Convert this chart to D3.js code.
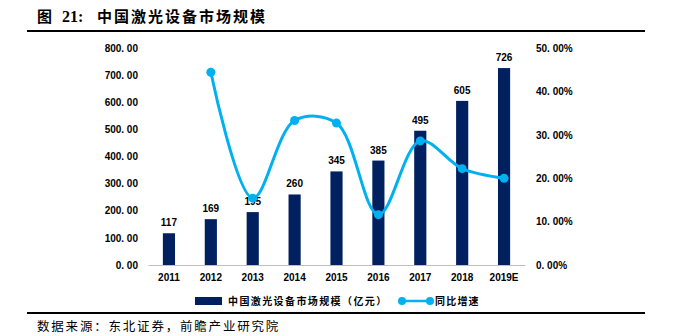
<!DOCTYPE html>
<html>
<head>
<meta charset="utf-8">
<script src="https://cdn.jsdelivr.net/npm/d3@7"></script>
<style>
  body { margin: 0; background: #fff; }
  svg { display: block; }
  .tick text { font-family: Arial, "Liberation Sans", sans-serif; font-weight: bold; font-size: 10px; fill: #000; }
  .cjk { font-family: "Noto Sans CJK SC", sans-serif; }
</style>
</head>
<body>
<svg width="675" height="336"></svg>
<script>
// data
var years = ["2011", "2012", "2013", "2014", "2015", "2016", "2017", "2018", "2019E"];
var market = [117, 169, 195, 260, 345, 385, 495, 605, 726];
var growth = [null, 0.444, 0.154, 0.333, 0.327, 0.116, 0.286, 0.222, 0.200];
var leftTicks = [0, 100, 200, 300, 400, 500, 600, 700, 800];
var rightTicks = [0, 0.1, 0.2, 0.3, 0.4, 0.5];

var svg = d3.select("svg");
var margin = { top: 48, left: 148, right: 150, bottom: 71 };
var width = 675 - margin.left - margin.right,
    height = 336 - margin.top - margin.bottom;

var barColor = "#002060", lineColor = "#00B0F0";

// title + rules
var title = svg.append("text")
    .attr("y", 22)
    .style("font-weight", "bold").style("font-size", "15px");
title.append("tspan").attr("x", 37).attr("class", "cjk").text("图");
title.append("tspan").attr("x", 62)
    .style("font-family", "'Liberation Serif', serif").style("font-size", "16px").text("21:");
title.append("tspan").attr("x", 97).attr("class", "cjk")
    .style("letter-spacing", "2px").text("中国激光设备市场规模");

svg.append("line").attr("x1", 27).attr("x2", 645).attr("y1", 31).attr("y2", 31)
    .attr("stroke", "#000").attr("stroke-width", 2);
svg.append("line").attr("x1", 27).attr("x2", 645).attr("y1", 313).attr("y2", 313)
    .attr("stroke", "#000").attr("stroke-width", 2);
svg.append("text").attr("class", "cjk")
    .attr("x", 37).attr("y", 331)
    .style("font-size", "12.5px").style("letter-spacing", "1.8px")
    .text("数据来源：东北证券，前瞻产业研究院");

var g = svg.append("g").attr("transform", "translate(" + margin.left + "," + margin.top + ")");

var x = d3.scaleBand().domain(years).range([0, width]).paddingInner(0.71).paddingOuter(0.355);
var y = d3.scaleLinear().domain([0, 800]).range([height, 0]);
var y2 = d3.scaleLinear().domain([0, 0.5]).range([height, 0]);

// left axis
var ax = g.append("g")
    .call(d3.axisLeft(y).tickValues(leftTicks).tickSize(0).tickPadding(10)
        .tickFormat(function(d) { return d3.format(".2f")(d).replace(".", ". "); }));
ax.select(".domain").remove();

// right axis
var ar = g.append("g").attr("transform", "translate(" + width + ",0)")
    .call(d3.axisRight(y2).tickValues(rightTicks).tickSize(0).tickPadding(11)
        .tickFormat(function(d) { return d3.format(".2f")(d * 100).replace(".", ". ") + "%"; }));
ar.select(".domain").remove();

// bottom axis
var ab = g.append("g").attr("transform", "translate(0," + height + ")")
    .call(d3.axisBottom(x).tickSize(0).tickPadding(9));
ab.select(".domain").attr("stroke", "#bfbfbf");

// bars
g.selectAll(".bar").data(market).enter().append("rect")
    .attr("class", "bar")
    .attr("x", function(d, i) { return x(years[i]); })
    .attr("y", function(d) { return y(d); })
    .attr("width", x.bandwidth())
    .attr("height", function(d) { return height - y(d); })
    .attr("fill", barColor);

// bar value labels
g.selectAll(".lbl").data(market).enter().append("text")
    .attr("x", function(d, i) { return x(years[i]) + x.bandwidth() / 2; })
    .attr("y", function(d) { return y(d) - 7; })
    .attr("text-anchor", "middle")
    .style("font-family", "Arial, 'Liberation Sans', sans-serif")
    .style("font-weight", "bold").style("font-size", "10px")
    .text(function(d) { return d; });

// growth line
var pts = growth.map(function(v, i) { return { year: years[i], v: v }; })
    .filter(function(d) { return d.v !== null; });
var line = d3.line()
    .x(function(d) { return x(d.year) + x.bandwidth() / 2; })
    .y(function(d) { return y2(d.v); })
    .curve(d3.curveCatmullRom.alpha(0.5));
g.append("path").datum(pts)
    .attr("d", line)
    .attr("fill", "none")
    .attr("stroke", lineColor)
    .attr("stroke-width", 3);
g.selectAll(".dot").data(pts).enter().append("circle")
    .attr("cx", function(d) { return x(d.year) + x.bandwidth() / 2; })
    .attr("cy", function(d) { return y2(d.v); })
    .attr("r", 4.5)
    .attr("fill", lineColor);

// legend
var lg = svg.append("g");
lg.append("rect").attr("x", 195).attr("y", 297).attr("width", 27).attr("height", 8).attr("fill", barColor);
lg.append("text").attr("class", "cjk").attr("x", 228).attr("y", 305)
    .style("font-size", "10px").style("font-weight", "bold").style("letter-spacing", "1.4px")
    .text("中国激光设备市场规模（亿元）");
lg.append("line").attr("x1", 402).attr("x2", 430).attr("y1", 301).attr("y2", 301)
    .attr("stroke", lineColor).attr("stroke-width", 2.5);
lg.append("circle").attr("cx", 402).attr("cy", 301).attr("r", 4).attr("fill", lineColor);
lg.append("circle").attr("cx", 430).attr("cy", 301).attr("r", 4).attr("fill", lineColor);
lg.append("text").attr("class", "cjk").attr("x", 435).attr("y", 305)
    .style("font-size", "10px").style("font-weight", "bold").style("letter-spacing", "1.2px")
    .text("同比增速");
</script>
</body>
</html>
